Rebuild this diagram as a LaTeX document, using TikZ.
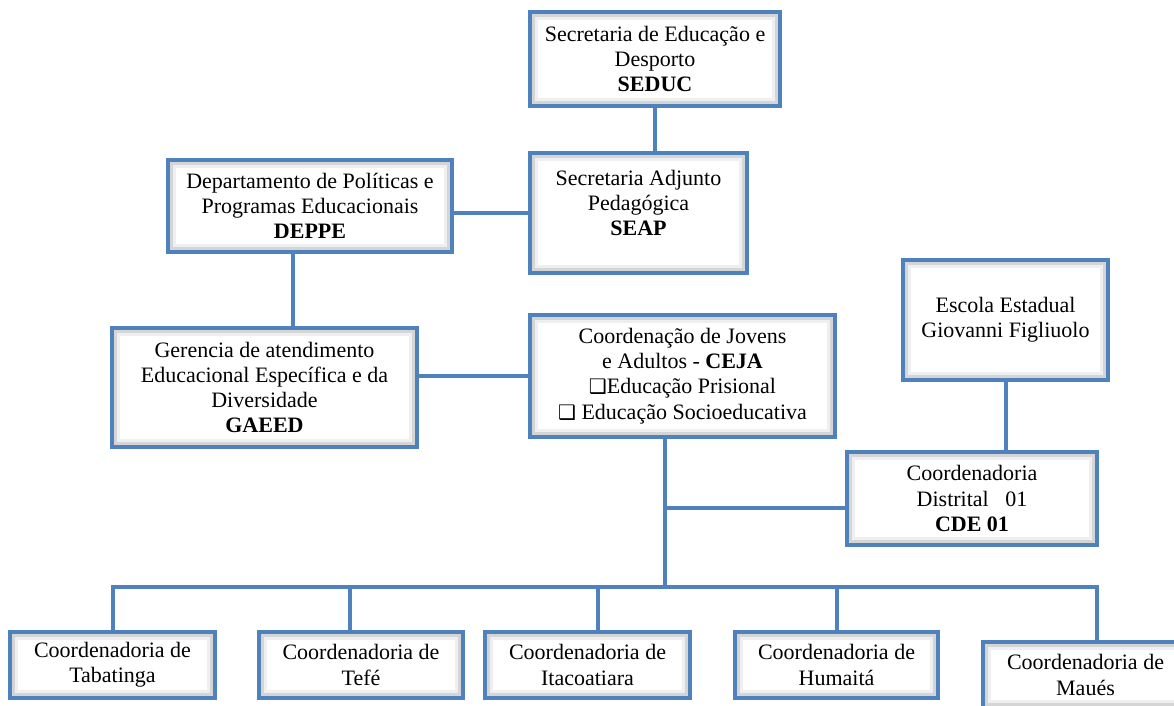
\documentclass[tikz,border=0pt]{standalone}
\usepackage{fontspec}
\setmainfont{Liberation Serif}
\newfontfamily\symfont{DejaVu Sans}
\usepackage{tikz}
\usetikzlibrary{calc, positioning}
\usepackage{xcolor}
\definecolor{orgblue}{RGB}{79,129,189}
\definecolor{orgshadow}{RGB}{150,150,150}
\newcommand{\chkbox}{{\symfont\fontsize{10}{12}\selectfont ❑}}

\begin{document}
\begin{tikzpicture}[x=0.5pt, y=-0.5pt]

% TikZ styles
\tikzset{
  unit/.style={rectangle, draw=orgblue, line width=2pt, fill=white, align=center,
    inner sep=2pt, font=\fontsize{11}{12.6}\selectfont,
    path picture={
      \draw[orgshadow!15, line width=8pt] (path picture bounding box.south west) rectangle (path picture bounding box.north east);
      \draw[orgshadow!40, line width=5pt] (path picture bounding box.south west) rectangle (path picture bounding box.north east);
    }},
  link/.style={draw=orgblue, line width=2pt}
}

\useasboundingbox (0,0) rectangle (1174,706);

%==========================
% Leitung oben
%==========================
\node[unit, minimum width=125pt, minimum height=47pt] (seduc) at (655,59)
  {Secretaria de Educação e\\Desporto\\\textbf{SEDUC}};
\node[unit, minimum width=108.5pt, minimum height=60pt] (seap) at (638.5,213)
  {Secretaria Adjunto\\Pedagógica\\\textbf{SEAP}\\[-2.6pt]};
\node[unit, minimum width=142pt, minimum height=46pt] (deppe) at (310,206)
  {Departamento de Políticas e\\Programas Educacionais\\\textbf{DEPPE}};
\node[unit, minimum width=152.5pt, minimum height=59.5pt] (gaeed) at (264.5,387.5)
  {Gerencia de atendimento\\Educacional Específica e da\\Diversidade\\\textbf{GAEED}};
\node[unit, minimum width=152.5pt, minimum height=61pt] (ceja) at (682.5,376)
  {Coordenação de Jovens\\e Adultos - \textbf{CEJA}\\\chkbox Educação Prisional\\\chkbox\ Educação Socioeducativa};

%==========================
% Rechts
%==========================
\node[unit, minimum width=102.5pt, minimum height=60pt] (escola) at (1005.5,320)
  {Escola Estadual\\Giovanni Figliuolo};
\node[unit, minimum width=125pt, minimum height=46.5pt] (cde) at (972,498.5)
  {Coordenadoria\\Distrital~~~01\\\textbf{CDE 01}};

%==========================
% Coordenadorias unten
%==========================
\node[unit, minimum width=102.5pt, minimum height=33pt] (tabatinga)   at (112.5,665) {Coordenadoria de\\Tabatinga};
\node[unit, minimum width=102pt,   minimum height=33pt] (tefe)        at (361,665)   {Coordenadoria de\\Tefé};
\node[unit, minimum width=102.5pt, minimum height=33pt] (itacoatiara) at (587.5,665) {Coordenadoria de\\Itacoatiara};
\node[unit, minimum width=101.5pt, minimum height=33pt] (humaita)     at (836.5,665) {Coordenadoria de\\Humaitá};
\node[unit, minimum width=102.5pt, minimum height=33pt] (maues)       at (1085.5,675) {Coordenadoria de\\Maués};

\coordinate (split) at (665,508);
\coordinate (bus) at (665,587);

% Verbindungen
\draw[link] (seduc.south) -- (seduc.south |- seap.north);
\draw[link] (seap.west -| deppe.east) -- (seap.west);
\draw[link] ([xshift=-8.5pt]deppe.south) -- ([xshift=-8.5pt]deppe.south |- gaeed.north);
\draw[link] (ceja.west -| gaeed.east) -- (ceja.west);
\draw[link] (escola.south) -- (escola.south |- cde.north);

\draw[link] (ceja.south -| bus) -- (bus);
\draw[link] (split) -- (split -| cde.west);
\foreach \n/\dx in {tabatinga/0, tefe/-5.5, itacoatiara/5.25, humaita/0, maues/5.75}
  \draw[link] (bus) -| ([xshift=\dx pt]\n.north);
\end{tikzpicture}
\end{document}
